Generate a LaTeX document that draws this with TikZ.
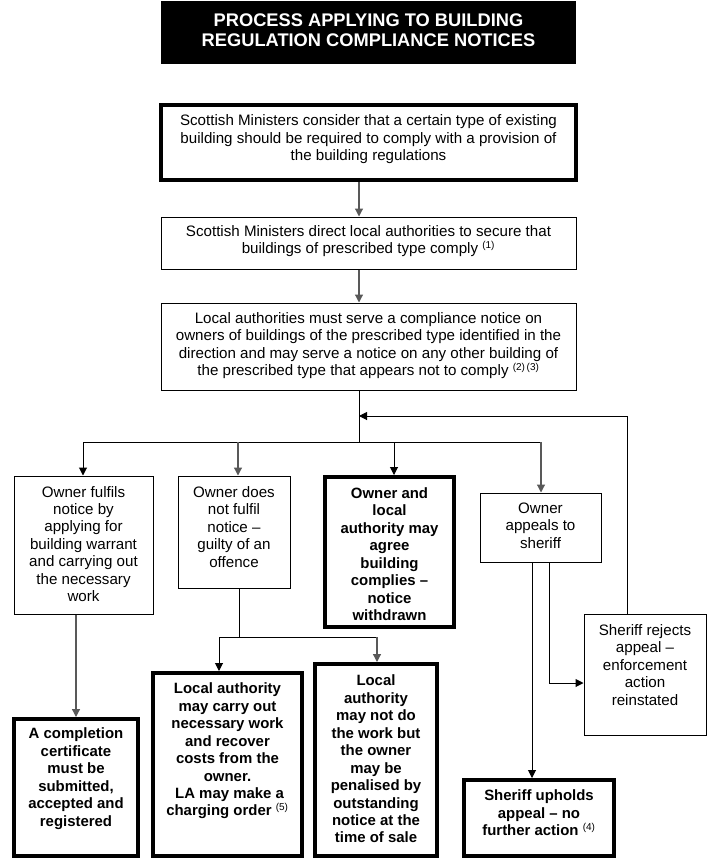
\documentclass[tikz,border=0pt]{standalone}
\usepackage{fontspec}
\setmainfont{Liberation Sans}
\usetikzlibrary{arrows.meta}
\newcommand{\sups}[1]{\textsuperscript{\mdseries\fontsize{7.5}{7.5}\selectfont #1}}
\begin{document}
\begin{tikzpicture}[x=0.75pt,y=-0.75pt,
  sz/.style 2 args={minimum width=#1*0.75pt, minimum height=#2*0.75pt},
  box/.style={draw, line width=0.75pt, inner sep=0pt},
  thickbox/.style={draw, line width=3pt, inner sep=0pt},
  txt/.style={align=center, inner sep=0pt, font=\fontsize{11.35}{13.1}\selectfont},
  btxt/.style={align=center, inner sep=0pt, font=\fontsize{11.2}{13.1}\selectfont\bfseries},
  arr/.style={-{Triangle[length=6pt,width=6pt]}, line width=0.75pt},
  garr/.style={arr, draw=black!65, line width=0.9pt},
  ln/.style={line width=0.75pt},
  gln/.style={line width=0.9pt, draw=black!65}]
\useasboundingbox (0,0) rectangle (713,861);
% title
\node[fill=black, sz={415}{63}, inner sep=0pt] (title) at (368.5,32.5) {};
\node[text=white, align=center, inner sep=0pt,
  font=\fontsize{13.7}{15.2}\selectfont\bfseries] (titlet) at (368.5,30)
  {PROCESS APPLYING TO BUILDING\\REGULATION COMPLIANCE NOTICES};
% boxes
\node[thickbox, sz={415}{75}] (b1) at (368.5,142.5) {};
\node[txt] (b1t) at (368.5,139.5) {Scottish Ministers consider that a certain type of existing\\building should be required to comply with a provision of\\the building regulations};
\node[box, sz={415}{52}] (b2) at (368.5,243) {};
\node[txt] (b2t) at (368.5,241) {Scottish Ministers direct local authorities to secure that\\buildings of prescribed type comply \sups{(1)}};
\node[box, sz={415}{87}] (b3) at (368.5,346.5) {};
\node[txt] (b3t) at (368.5,345.5) {Local authorities must serve a compliance notice on\\owners of buildings of the prescribed type identified in the\\direction and may serve a notice on any other building of\\the prescribed type that appears not to comply \sups{(2)\,(3)}};
\node[box, sz={139}{138}] (A) at (83.5,545) {};
\node[txt] (At) at (83.5,544) {Owner fulfils\\notice by\\applying for\\building warrant\\and carrying out\\the necessary\\work};
\node[box, sz={112}{112}] (B) at (234,532) {};
\node[txt] (Bt) at (234,526.7) {Owner does\\not fulfil\\notice --\\guilty of an\\offence};
\node[thickbox, sz={129}{150}] (C) at (389.5,552) {};
\node[btxt] (Ct) at (389.5,554) {Owner and\\local\\authority may\\agree\\building\\complies --\\notice\\withdrawn};
\node[box, sz={121}{69}] (D) at (540.5,527.5) {};
\node[txt] (Dt) at (540.5,525.5) {Owner\\appeals to\\sheriff};
\node[box, sz={122}{121}] (E) at (645,674.5) {};
\node[txt] (Et) at (645,665) {Sheriff rejects\\appeal --\\enforcement\\action\\reinstated};
\node[thickbox, sz={124}{137}] (F) at (76,787.5) {};
\node[btxt] (Ft) at (76,778.5) {A completion\\certificate\\must be\\submitted,\\accepted and\\registered};
\node[thickbox, sz={149}{183}] (G) at (227.5,764.5) {};
\node[btxt] (Gt) at (227.5,751) {Local authority\\may carry out\\necessary work\\and recover\\costs from the\\owner.\\\ LA may make a\\charging order \sups{(5)}};
\node[thickbox, sz={122}{192}] (H) at (376,760) {};
\node[btxt] (Ht) at (376,759) {Local\\authority\\may not do\\the work but\\the owner\\may be\\penalised by\\outstanding\\notice at the\\time of sale};
\node[thickbox, sz={150}{76}] (I) at (539,818) {};
\node[btxt] (It) at (539,813) {Sheriff upholds\\appeal -- no\\further action \sups{(4)}};
% coordinates
\coordinate (xm) at (359,0);
\coordinate (jn) at (359,442);
\coordinate (hl) at (83,442);
\coordinate (hr) at (541,442);
\coordinate (xB) at (238,442);
\coordinate (xC) at (394,442);
\coordinate (fb) at (627,416);
\coordinate (fbm) at (359,416);
\coordinate (xBd) at (239,637);
\coordinate (hl2) at (219,637);
\coordinate (hr2) at (377,637);
\coordinate (xA) at (76,0);
\coordinate (xD1) at (532,0);
\coordinate (xD2) at (549,683);
% connectors
\draw[garr] (xm |- b1.south) -- (xm |- b2.north);
\draw[garr] (xm |- b2.south) -- (xm |- b3.north);
\draw[ln] (xm |- b3.south) -- (jn);
\draw[ln] (hl) -- (hr);
\draw[arr] (hl) -- (hl |- A.north);
\draw[garr] (xB) -- (xB |- B.north);
\draw[arr] (xC) -- (xC |- C.north);
\draw[garr] (hr) -- (hr |- D.north);
\draw[arr] (fb |- E.north) -- (fb) -- (fbm);
\draw[ln] (xBd |- B.south) -- (xBd);
\draw[ln] (hl2) -- (hr2);
\draw[arr] (hl2) -- (hl2 |- G.north);
\draw[garr] (hr2) -- (hr2 |- H.north);
\draw[garr] (xA |- A.south) -- (xA |- F.north);
\draw[arr] (xD1 |- D.south) -- (xD1 |- I.north);
\draw[arr] (xD2 |- D.south) -- (xD2) -- (xD2 -| E.west);
\end{tikzpicture}
\end{document}
